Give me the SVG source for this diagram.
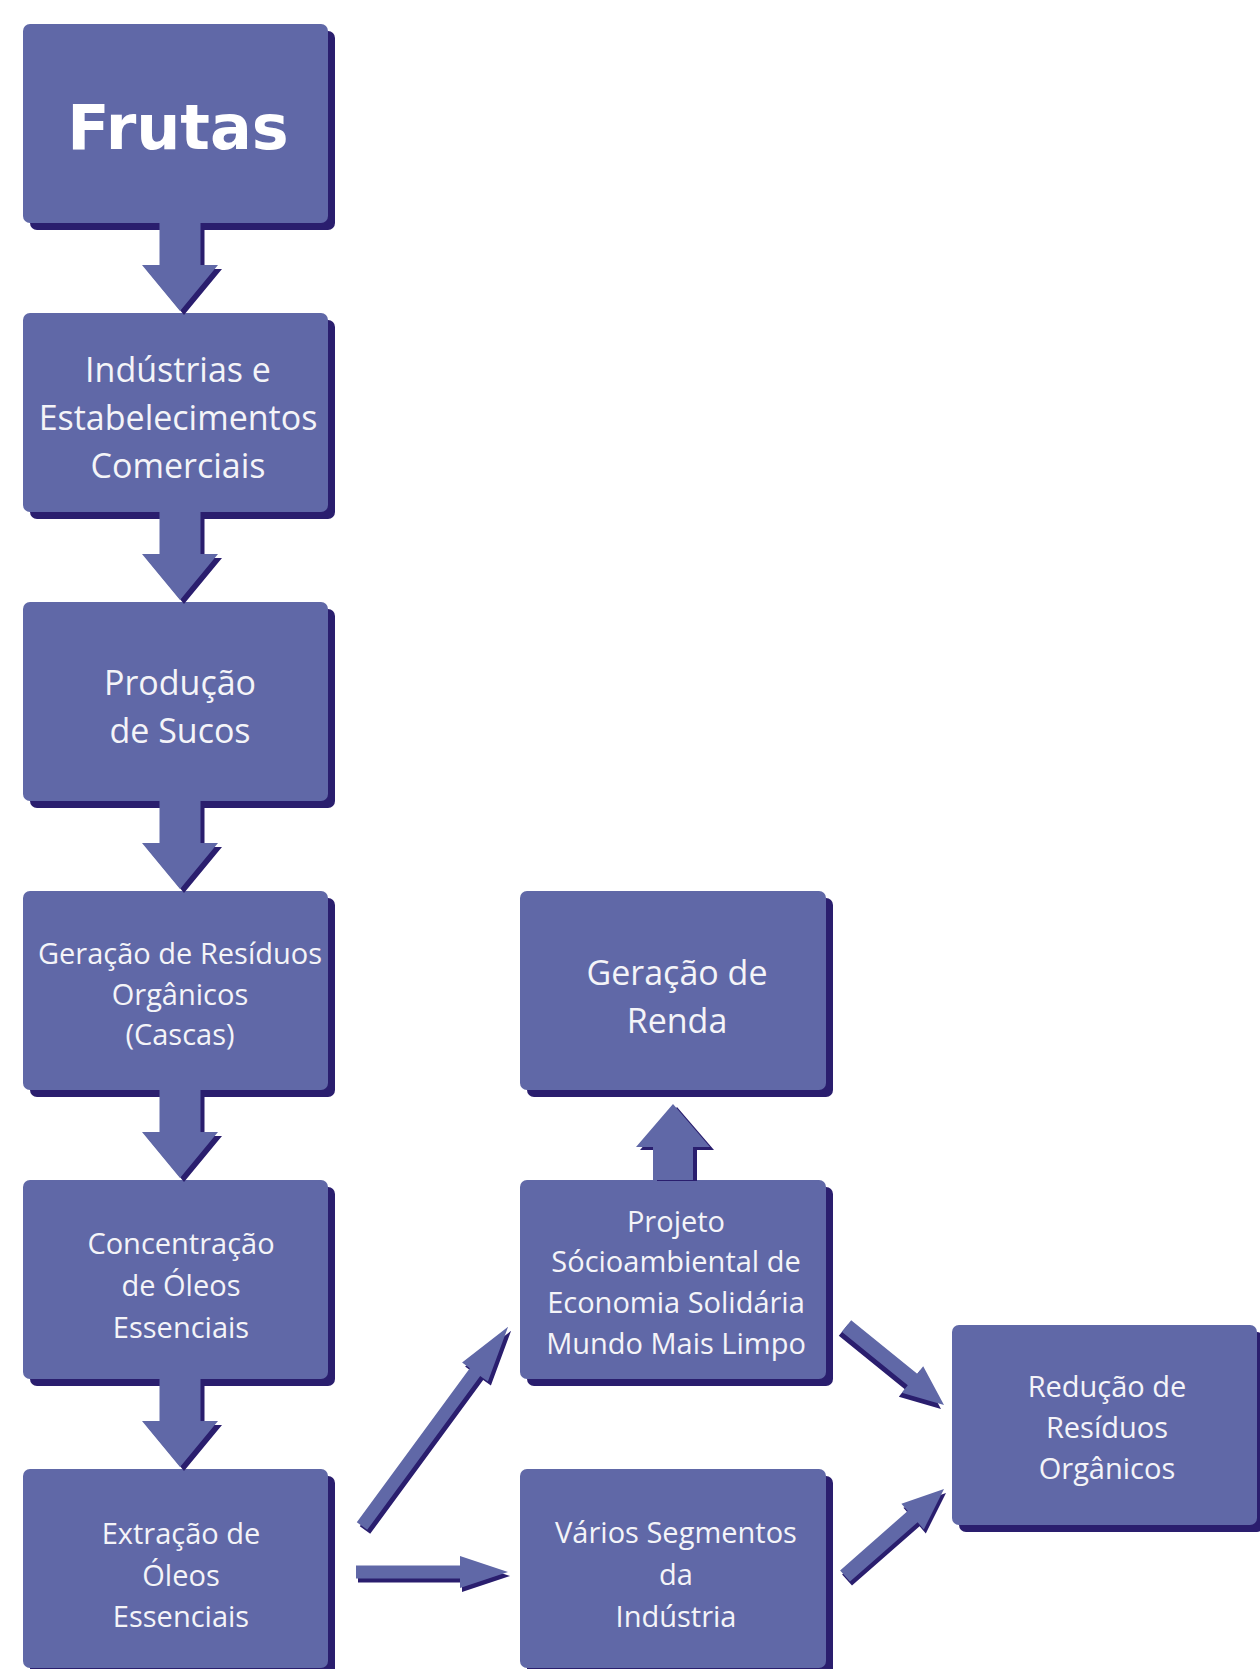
<svg xmlns="http://www.w3.org/2000/svg" width="1260" height="1669" viewBox="0 0 1260 1669">
<style>
.box{fill:#6068a7}
.sh{fill:#2a1e6e}
.arr{fill:#6068a7}
.ash{fill:#2a1e6e}
.t{font-family:"Open Sans","Noto Sans",sans-serif;fill:#f4f4f8;text-anchor:middle}
.t34{font-size:34px}
.t29{font-size:29px}
.big{font-family:"DejaVu Sans","Open Sans",sans-serif;font-weight:bold;font-size:62px;fill:#ffffff;text-anchor:middle}
</style>
<rect width="1260" height="1669" fill="#ffffff"/>
<g id="frutas">
<rect class="sh" x="30" y="31" width="305" height="199" rx="7"/>
<rect class="box" x="23" y="24" width="305" height="199" rx="7"/>
<text class="big" x="178" y="149">Frutas</text>
</g>
<g id="industrias">
<rect class="sh" x="30" y="320" width="305" height="199" rx="7"/>
<rect class="box" x="23" y="313" width="305" height="199" rx="7"/>
<text class="t t34" x="178" y="382">Indústrias e</text>
<text class="t t34" x="178" y="430">Estabelecimentos</text>
<text class="t t34" x="178" y="478">Comerciais</text>
</g>
<g id="producao">
<rect class="sh" x="30" y="609" width="305" height="199" rx="7"/>
<rect class="box" x="23" y="602" width="305" height="199" rx="7"/>
<text class="t t34" x="180" y="695">Produção</text>
<text class="t t34" x="180" y="743">de Sucos</text>
</g>
<g id="geracao-residuos">
<rect class="sh" x="30" y="898" width="305" height="199" rx="7"/>
<rect class="box" x="23" y="891" width="305" height="199" rx="7"/>
<text class="t t29" x="180" y="964">Geração de Resíduos</text>
<text class="t t29" x="180" y="1005">Orgânicos</text>
<text class="t t29" x="180" y="1045">(Cascas)</text>
</g>
<g id="concentracao">
<rect class="sh" x="30" y="1187" width="305" height="199" rx="7"/>
<rect class="box" x="23" y="1180" width="305" height="199" rx="7"/>
<text class="t t29" x="181" y="1254">Concentração</text>
<text class="t t29" x="181" y="1296">de Óleos</text>
<text class="t t29" x="181" y="1338">Essenciais</text>
</g>
<g id="extracao">
<rect class="sh" x="30" y="1476" width="305" height="199" rx="7"/>
<rect class="box" x="23" y="1469" width="305" height="199" rx="7"/>
<text class="t t29" x="181" y="1544">Extração de</text>
<text class="t t29" x="181" y="1586">Óleos</text>
<text class="t t29" x="181" y="1627">Essenciais</text>
</g>
<g id="geracao-renda">
<rect class="sh" x="527" y="898" width="306" height="199" rx="7"/>
<rect class="box" x="520" y="891" width="306" height="199" rx="7"/>
<text class="t t34" x="677" y="985">Geração de</text>
<text class="t t34" x="677" y="1033">Renda</text>
</g>
<g id="projeto">
<rect class="sh" x="527" y="1187" width="306" height="199" rx="7"/>
<rect class="box" x="520" y="1180" width="306" height="199" rx="7"/>
<text class="t t29" x="676" y="1232">Projeto</text>
<text class="t t29" x="676" y="1272">Sócioambiental de</text>
<text class="t t29" x="676" y="1313">Economia Solidária</text>
<text class="t t29" x="676" y="1354">Mundo Mais Limpo</text>
</g>
<g id="varios">
<rect class="sh" x="527" y="1476" width="306" height="199" rx="7"/>
<rect class="box" x="520" y="1469" width="306" height="199" rx="7"/>
<text class="t t29" x="676" y="1543">Vários Segmentos</text>
<text class="t t29" x="676" y="1585">da</text>
<text class="t t29" x="676" y="1627">Indústria</text>
</g>
<g id="reducao">
<rect class="sh" x="959" y="1332" width="305" height="200" rx="7"/>
<rect class="box" x="952" y="1325" width="305" height="200" rx="7"/>
<text class="t t29" x="1107" y="1397">Redução de</text>
<text class="t t29" x="1107" y="1438">Resíduos</text>
<text class="t t29" x="1107" y="1479">Orgânicos</text>
</g>
<defs>
<polygon id="down" points="159.5,223 200.5,223 200.5,265 218,265 180,311 142,265 159.5,265"/>
</defs>
<g id="connectors">
<use href="#down" class="ash" x="4" y="4"/>
<use href="#down" class="arr"/>
<use href="#down" class="ash" x="4" y="293"/>
<use href="#down" class="arr" y="289"/>
<use href="#down" class="ash" x="4" y="582"/>
<use href="#down" class="arr" y="578"/>
<use href="#down" class="ash" x="4" y="871"/>
<use href="#down" class="arr" y="867"/>
<use href="#down" class="ash" x="4" y="1160"/>
<use href="#down" class="arr" y="1156"/>
<g transform="translate(4,3)"><polygon class="ash" points="653,1178 653,1147 636,1147 673,1104 710,1147 693,1147 693,1178"/></g>
<polygon class="arr" points="653,1180 653,1147 636,1147 673,1104 710,1147 693,1147 693,1180"/>
<g transform="translate(3,4)"><polygon class="ash" points="356.8,1522.2 469.8,1368.2 462.1,1362.5 508.1,1326.8 487.9,1381.5 480.2,1375.9 367.2,1529.8"/></g>
<polygon class="arr" points="356.8,1522.2 469.8,1368.2 462.1,1362.5 508.1,1326.8 487.9,1381.5 480.2,1375.9 367.2,1529.8"/>
<g transform="translate(2,4)"><polygon class="ash" points="356,1565.5 460,1565.5 460,1556 508,1572 460,1588 460,1578.5 356,1578.5"/></g>
<polygon class="arr" points="356,1565.5 460,1565.5 460,1556 508,1572 460,1588 460,1578.5 356,1578.5"/>
<g transform="translate(-3,4)"><polygon class="ash" points="851.2,1320.2 917.2,1373.7 923.2,1366.3 944,1405 901.8,1392.7 907.8,1385.3 841.8,1331.8"/></g>
<polygon class="arr" points="851.2,1320.2 917.2,1373.7 923.2,1366.3 944,1405 901.8,1392.7 907.8,1385.3 841.8,1331.8"/>
<g transform="translate(2,4)"><polygon class="ash" points="840.1,1570.4 907.7,1511 901.4,1503.8 944,1489 923.8,1529.4 917.6,1522.2 850,1581.6"/></g>
<polygon class="arr" points="840.1,1570.4 907.7,1511 901.4,1503.8 944,1489 923.8,1529.4 917.6,1522.2 850,1581.6"/>
</g>
</svg>
